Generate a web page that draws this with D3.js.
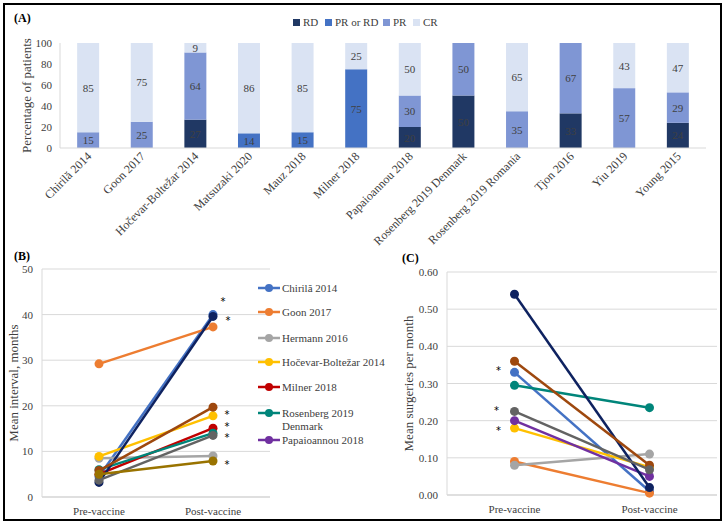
<!DOCTYPE html>
<html>
<head>
<meta charset="utf-8">
<script src="https://cdn.jsdelivr.net/npm/d3@7"></script>
<style>
  body { margin: 0; background: #fff; }
  svg { display: block; font-family: "Liberation Serif", serif; }
  text { fill: #404040; }
</style>
</head>
<body>
<svg id="chart"></svg>
<script>
'use strict';

// panel A: response by study (%)
const studies = ['Chirilă 2014', 'Goon 2017', 'Hočevar-Boltežar 2014', 'Matsuzaki 2020', 'Mauz 2018',
  'Milner 2018', 'Papaioannou 2018', 'Rosenberg 2019 Denmark', 'Rosenberg 2019 Romania', 'Tjon 2016',
  'Yiu 2019', 'Young 2015'];
const rd     = [0, 0, 27, 0, 0, 0, 20, 50, 0, 33, 0, 24];
const prOrRd = [0, 0, 0, 14, 15, 75, 0, 0, 0, 0, 0, 0];
const pr     = [15, 25, 64, 0, 0, 0, 30, 50, 35, 67, 57, 29];
const cr     = [85, 75, 9, 86, 85, 25, 50, 0, 65, 0, 43, 47];
const respKeys = ['RD', 'PR or RD', 'PR', 'CR'];
const respColors = ['#203864', '#4472C4', '#7F96D4', '#DAE3F3'];
const pctTicks = [0, 20, 40, 60, 80, 100];

// panels B and C: per-study lines (null = not reported)
const lineNames = ['Chirilă 2014', 'Goon 2017', 'Hermann 2016', 'Hočevar-Boltežar 2014', 'Milner 2018',
  'Rosenberg 2019 Denmark', 'Papaioannou 2018', 's8', 's9', 's10', 's11'];
const lineColors = ['#4472C4', '#ED7D31', '#A5A5A5', '#FFC000', '#C00000', '#00857A', '#7030A0',
  '#0E2260', '#9E480E', '#636363', '#997300'];
const periods = ['Pre-vaccine', 'Post-vaccine'];
const intervalPre  = [4.5, 29.2, 8.5, 8.9, 5.0, 6.0, null, 3.2, 5.8, 3.7, 5.0];
const intervalPost = [40.0, 37.3, 9.0, 17.8, 15.1, 14.0, null, 39.6, 19.7, 13.5, 7.9];
const surgPre  = [0.33, 0.09, 0.08, 0.18, null, 0.295, 0.20, 0.54, 0.36, 0.225, null];
const surgPost = [0.01, 0.005, 0.11, 0.075, null, 0.235, 0.05, 0.02, 0.08, 0.068, null];
const intervalTicks = [0, 10, 20, 30, 40, 50];
const surgTicks = [0, 0.1, 0.2, 0.3, 0.4, 0.5, 0.6];
// significance markers (y value)
const intervalStars = [43.5, 39.3, 18.6, 16.0, 13.6, 7.7];
const surgStars = [0.342, 0.234, 0.18];

const W = 726, H = 527;
const svg = d3.select('#chart').attr('width', W).attr('height', H);
svg.append('rect').attr('width', W).attr('height', H).attr('fill', '#fff');
svg.append('rect')
  .attr('x', 4).attr('y', 4).attr('width', 717).attr('height', 516)
  .attr('fill', 'none').attr('stroke', '#000').attr('stroke-width', 2);

// ---------- panel A ----------
const gA = svg.append('g');
gA.append('text').attr('x', 14).attr('y', 22).attr('font-weight', 'bold')
  .attr('font-size', 12).style('fill', '#000').text('(A)');

const xA = d3.scaleBand().domain(studies).range([60, 706]).paddingInner(0.59).paddingOuter(0.32);
const yA = d3.scaleLinear().domain([0, 100]).range([148, 43]);

const rows = studies.map((s, i) => ({ study: s, 'RD': rd[i], 'PR or RD': prOrRd[i], 'PR': pr[i], 'CR': cr[i] }));
const stacked = d3.stack().keys(respKeys)(rows);

gA.append('g').selectAll('text').data(pctTicks).join('text')
  .attr('x', 52).attr('y', d => yA(d) + 4).attr('text-anchor', 'end')
  .attr('font-size', 11).text(d => d);

gA.append('line').attr('x1', 60).attr('x2', 60).attr('y1', yA(100)).attr('y2', yA(0))
  .attr('stroke', '#d9d9d9');

stacked.forEach((layer, k) => {
  const g = gA.append('g');
  g.selectAll('rect').data(layer).join('rect')
    .attr('x', d => xA(d.data.study))
    .attr('y', d => yA(d[1]))
    .attr('width', xA.bandwidth())
    .attr('height', d => yA(d[0]) - yA(d[1]))
    .attr('fill', respColors[k]);
  g.selectAll('text').data(layer.filter(d => d[1] - d[0] > 0)).join('text')
    .attr('x', d => xA(d.data.study) + xA.bandwidth() / 2)
    .attr('y', d => yA((d[0] + d[1]) / 2) + 4)
    .attr('text-anchor', 'middle').attr('font-size', 11)
    .text(d => d[1] - d[0]);
});

gA.append('line').attr('x1', 60).attr('x2', 706).attr('y1', yA(0)).attr('y2', yA(0))
  .attr('stroke', '#d9d9d9');

gA.append('g').selectAll('text').data(studies).join('text')
  .attr('transform', d => `translate(${xA(d) + xA.bandwidth() / 2 + 4},157) rotate(-45)`)
  .attr('text-anchor', 'end').attr('font-size', 12).text(d => d);

gA.append('text')
  .attr('transform', `translate(31,${yA(50)}) rotate(-90)`)
  .attr('text-anchor', 'middle').attr('font-size', 13).text('Percentage of patients');

const legA = gA.append('g').selectAll('g').data(respKeys).join('g')
  .attr('transform', (d, i) => `translate(${[293, 325, 383, 413][i]},0)`);
legA.append('rect').attr('y', 19).attr('width', 7).attr('height', 7).attr('fill', (d, i) => respColors[i]);
legA.append('text').attr('x', 10).attr('y', 26).attr('font-size', 11).text(d => d);

// ---------- line panels ----------
function linePanel(opts) {
  const g = svg.append('g');
  const x = d3.scalePoint().domain(periods).range(opts.xr).padding(0.5);
  const y = d3.scaleLinear().domain(opts.domain).range(opts.yr);

  g.append('text').attr('x', opts.tag[0]).attr('y', opts.tag[1]).attr('font-weight', 'bold')
    .attr('font-size', 12).style('fill', '#000').text(opts.tagText);

  g.append('g').selectAll('line').data(opts.ticks).join('line')
    .attr('x1', opts.xr[0]).attr('x2', opts.xr[1])
    .attr('y1', d => y(d)).attr('y2', d => y(d))
    .attr('stroke', d => d === 0 ? '#bfbfbf' : '#d9d9d9');
  g.append('line').attr('x1', opts.xr[0]).attr('x2', opts.xr[0])
    .attr('y1', opts.yr[0]).attr('y2', opts.yr[1]).attr('stroke', '#d9d9d9');

  g.append('g').selectAll('text').data(opts.ticks).join('text')
    .attr('x', opts.xr[0] - 9).attr('y', d => y(d) + 4).attr('text-anchor', 'end')
    .attr('font-size', 11).text(opts.fmt);

  g.append('g').selectAll('text').data(periods).join('text')
    .attr('x', d => x(d)).attr('y', opts.yr[0] + 18).attr('text-anchor', 'middle')
    .attr('font-size', 11).text(d => d);

  g.append('text')
    .attr('transform', `translate(${opts.ylab},${(opts.yr[0] + opts.yr[1]) / 2}) rotate(-90)`)
    .attr('text-anchor', 'middle').attr('font-size', 13).text(opts.title);

  const series = lineNames.map((n, i) => ({ name: n, color: lineColors[i], v: [opts.pre[i], opts.post[i]] }))
    .filter(s => s.v[0] !== null);
  const line = d3.line().x((d, i) => x(periods[i])).y(d => y(d));
  const sg = g.append('g').selectAll('g').data(series).join('g');
  sg.append('path').attr('d', d => line(d.v)).attr('fill', 'none')
    .attr('stroke', d => d.color).attr('stroke-width', 2.5);
  sg.selectAll('circle').data(d => d.v.map(v => ({ v, c: d.color }))).join('circle')
    .attr('cx', (d, i) => x(periods[i])).attr('cy', d => y(d.v)).attr('r', 4.5)
    .attr('fill', d => d.c);

  g.append('g').selectAll('text').data(opts.stars).join('text')
    .attr('x', (d, i) => x(opts.starPeriod) + opts.starDx[i]).attr('y', d => y(d) + 6)
    .attr('text-anchor', 'middle').attr('font-size', 10).attr('font-family', 'DejaVu Sans')
    .style('fill', '#000').text('*');
  return g;
}

linePanel({
  xr: [42, 270], yr: [497, 269], domain: [0, 50], ticks: intervalTicks, fmt: d => d,
  pre: intervalPre, post: intervalPost, title: 'Mean interval, months', ylab: 18,
  tag: [14, 260], tagText: '(B)',
  stars: intervalStars, starPeriod: 'Post-vaccine', starDx: [10, 15, 14, 14, 14, 14]
});

linePanel({
  xr: [447, 717], yr: [495, 272], domain: [0, 0.6], ticks: surgTicks, fmt: d3.format('.2f'),
  pre: surgPre, post: surgPost, title: 'Mean surgeries per month', ylab: 413,
  tag: [402, 262], tagText: '(C)',
  stars: surgStars, starPeriod: 'Pre-vaccine', starDx: [-16, -18, -16]
});

// legend for panel B
const legY = [288, 312, 338, 362, 387, 413, 440];
const legB = svg.append('g').selectAll('g').data(lineNames.slice(0, 7)).join('g')
  .attr('transform', (d, i) => `translate(258,${legY[i]})`);
legB.append('line').attr('x1', 0).attr('x2', 22).attr('stroke', (d, i) => lineColors[i]).attr('stroke-width', 2.5);
legB.append('circle').attr('cx', 11).attr('r', 4).attr('fill', (d, i) => lineColors[i]);
legB.append('text').attr('x', 24).attr('y', 4).attr('font-size', 11)
  .each(function (d) {
    const t = d3.select(this);
    if (d === 'Rosenberg 2019 Denmark') {
      t.append('tspan').attr('x', 24).text('Rosenberg 2019');
      t.append('tspan').attr('x', 24).attr('dy', 13).text('Denmark');
    } else {
      t.text(d);
    }
  });
</script>
</body>
</html>
